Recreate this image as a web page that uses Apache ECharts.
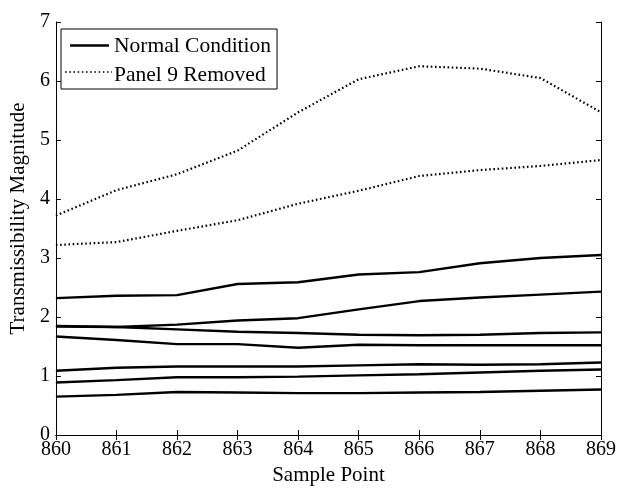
<!DOCTYPE html>
<html>
<head>
<meta charset="utf-8">
<script src="https://cdn.jsdelivr.net/npm/echarts@6/dist/echarts.min.js"></script>
<style>html,body{margin:0;padding:0;background:#fff}#c{width:619px;height:491px}</style>
</head>
<body>
<div id="c"></div>
<script>
const samplePoints = [860, 861, 862, 863, 864, 865, 866, 867, 868, 869];
const yTicks = [0, 1, 2, 3, 4, 5, 6, 7];

const normal1 = [2.32, 2.36, 2.37, 2.56, 2.59, 2.72, 2.76, 2.91, 3.00, 3.05];
const normal2 = [1.85, 1.83, 1.87, 1.94, 1.98, 2.13, 2.27, 2.33, 2.38, 2.43];
const normal3 = [1.84, 1.83, 1.79, 1.75, 1.73, 1.70, 1.69, 1.70, 1.73, 1.74];
const normal4 = [1.67, 1.61, 1.54, 1.54, 1.48, 1.53, 1.52, 1.52, 1.52, 1.52];
const normal5 = [1.09, 1.14, 1.16, 1.16, 1.16, 1.18, 1.20, 1.19, 1.20, 1.23];
const normal6 = [0.89, 0.93, 0.98, 0.98, 0.99, 1.01, 1.03, 1.06, 1.09, 1.11];
const normal7 = [0.65, 0.68, 0.73, 0.72, 0.71, 0.71, 0.72, 0.73, 0.75, 0.77];

const removed1 = [3.72, 4.15, 4.42, 4.82, 5.47, 6.03, 6.25, 6.21, 6.05, 5.47];
const removed2 = [3.22, 3.27, 3.46, 3.64, 3.92, 4.14, 4.39, 4.49, 4.56, 4.66];

const normalSets = [normal1, normal2, normal3, normal4, normal5, normal6, normal7];
const removedSets = [removed1, removed2];

const FONT = 'Liberation Serif';
const DOT = [1.6, 2.6];
const pair = arr => arr.map((v, i) => [samplePoints[i], v]);

const series = [];
normalSets.forEach(d => series.push({
  name: 'Normal Condition', type: 'line', data: pair(d), symbol: 'none',
  lineStyle: { color: '#000', width: 2.4 }, itemStyle: { color: '#000' }
}));
removedSets.forEach(d => series.push({
  name: 'Panel 9 Removed', type: 'line', data: pair(d), symbol: 'none',
  lineStyle: { color: '#000', width: 2.2, type: DOT }, itemStyle: { color: '#000' }
}));

const chart = echarts.init(document.getElementById('c'), null, { renderer: 'canvas' });
chart.setOption({
  animation: false,
  backgroundColor: '#fff',
  textStyle: { fontFamily: FONT, color: '#000' },
  grid: { left: 54, right: 18, top: 22, bottom: 50, containLabel: false },
  legend: {
    data: [
      { name: 'Normal Condition', icon: 'none' },
      { name: 'Panel 9 Removed', icon: 'none' }
    ],
    orient: 'vertical', left: 61, top: 29,
    padding: [6, 6, 3, 8], itemGap: 7, itemWidth: 38, itemHeight: 14,
    borderColor: '#000', borderWidth: 1, backgroundColor: '#fff', borderRadius: 0,
    textStyle: { fontFamily: FONT, fontSize: 21.5, color: '#000', padding: [0, 0, 0, 2] }
  },
  graphic: [
    { type: 'line', z: 100, shape: { x1: 70, y1: 45.5, x2: 109, y2: 45.5 },
      style: { stroke: '#000', lineWidth: 2.4 } },
    { type: 'line', z: 100, shape: { x1: 65, y1: 72, x2: 112, y2: 72 },
      style: { stroke: '#000', lineWidth: 1.5, lineDash: DOT } }
  ],
  xAxis: [{
    type: 'value', min: 860, max: 869, interval: 1,
    name: 'Sample Point', nameLocation: 'middle', nameGap: 30,
    nameTextStyle: { fontFamily: FONT, fontSize: 21, color: '#000' },
    axisLine: { show: true, lineStyle: { color: '#000', width: 1 } },
    axisTick: { show: true, inside: true, length: 5, lineStyle: { color: '#000' } },
    axisLabel: { fontFamily: FONT, fontSize: 20, color: '#000', margin: 5 },
    splitLine: { show: false }
  }, {
    type: 'value', position: 'top', min: 860, max: 869, interval: 1,
    axisLine: { show: true, lineStyle: { color: '#000', width: 1 } },
    axisTick: { show: true, inside: true, length: 5, lineStyle: { color: '#000' } },
    axisLabel: { show: false }, splitLine: { show: false }
  }],
  yAxis: [{
    type: 'value', min: 0, max: 7, interval: 1,
    name: 'Transmissibility Magnitude', nameLocation: 'middle', nameGap: 24,
    nameTextStyle: { fontFamily: FONT, fontSize: 21, color: '#000', padding: [0, 0, 0, 20] },
    axisLine: { show: true, lineStyle: { color: '#000', width: 1 } },
    axisTick: { show: true, inside: true, length: 5, lineStyle: { color: '#000' } },
    axisLabel: { fontFamily: FONT, fontSize: 20, color: '#000', margin: 6 },
    splitLine: { show: false }
  }, {
    type: 'value', position: 'right', min: 0, max: 7, interval: 1,
    axisLine: { show: true, lineStyle: { color: '#000', width: 1 } },
    axisTick: { show: true, inside: true, length: 5, lineStyle: { color: '#000' } },
    axisLabel: { show: false }, splitLine: { show: false }
  }],
  series: series
});
</script>
</body>
</html>
